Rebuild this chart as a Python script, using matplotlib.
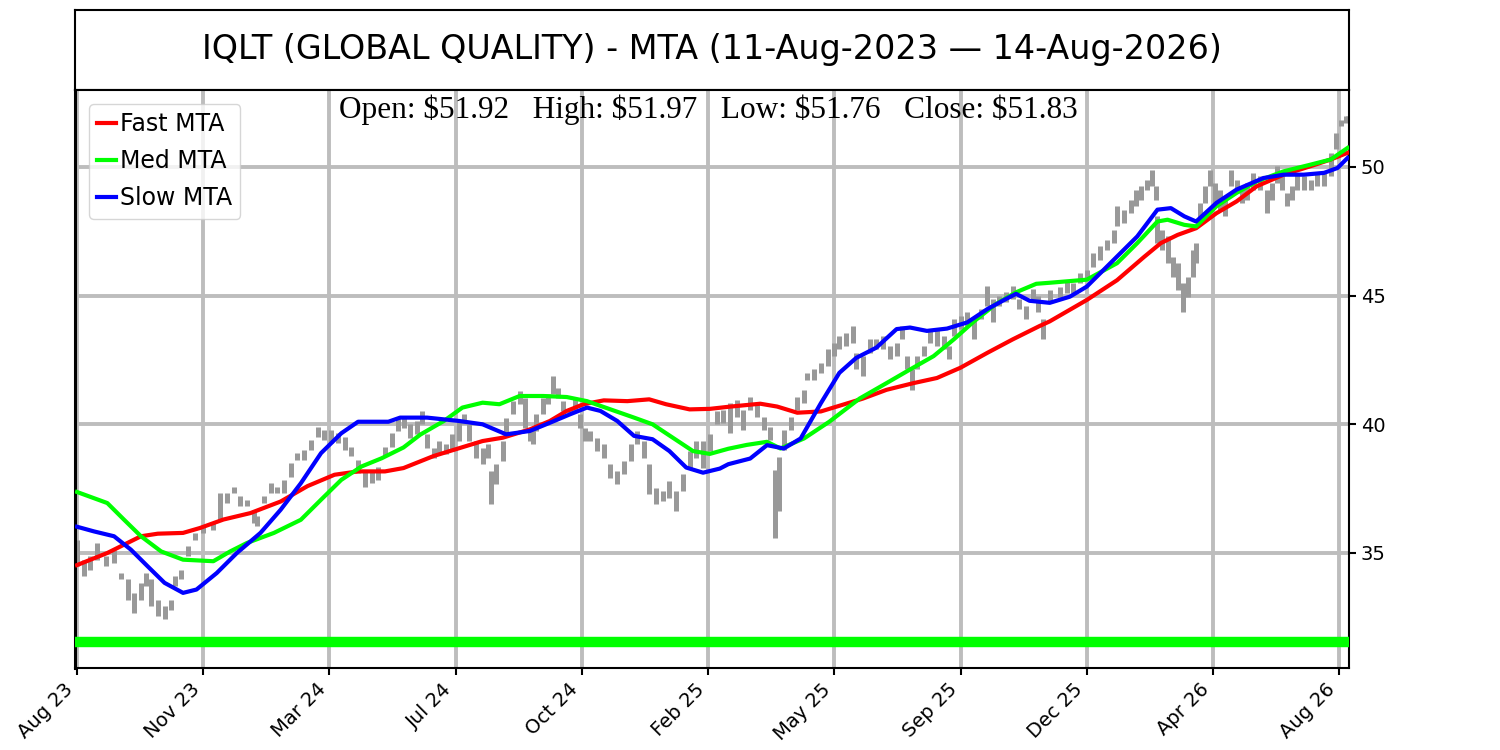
import numpy as np
import matplotlib
matplotlib.use('Agg')
import matplotlib.pyplot as plt

# DATA ----------------------------------------------------------------------------------------------------------------#
title_text = "IQLT (GLOBAL QUALITY) - MTA (11-Aug-2023 \u2014 14-Aug-2026)"
ohlc_text = "Open: $51.92   High: $51.97   Low: $51.76   Close: $51.83"

tick_pos = [0, 75, 150, 225, 300, 375, 450, 525, 600, 675, 750]
tick_labels = ['Aug 23', 'Nov 23', 'Mar 24', 'Jul 24', 'Oct 24', 'Feb 25',
               'May 25', 'Sep 25', 'Dec 25', 'Apr 26', 'Aug 26']

# price bars (bar index, low, high)
bar_idx = [0, 4, 8, 12, 17, 22, 26, 30, 34, 38, 41, 44, 48, 52, 56, 58, 62, 66, 70, 75,
           81, 85, 89, 93, 97, 101, 105, 107, 111, 115, 119, 123, 127, 131, 135, 139, 143, 147, 151, 155,
           159, 163, 167, 171, 175, 179, 183, 187, 191, 194, 198, 202, 205, 208, 212, 215, 219, 223, 227, 230,
           233, 237, 241, 244, 246, 249, 253, 255, 259, 263, 266, 269, 271, 273, 277, 280, 283, 286, 289, 293,
           296, 299, 302, 305, 309, 313, 317, 321, 325, 329, 333, 337, 340, 344, 348, 352, 356, 360, 364, 368,
           372, 376, 380, 384, 388, 392, 396, 400, 404, 408, 412, 415, 417, 420, 424, 428, 432, 434, 438, 442,
           446, 450, 453, 457, 461, 463, 467, 471, 475, 479, 483, 487, 490, 493, 496, 499, 503, 507, 511, 515,
           518, 521, 525, 529, 533, 537, 541, 544, 548, 552, 556, 560, 564, 568, 571, 574, 578, 584, 588, 592,
           596, 600, 604, 608, 612, 616, 618, 622, 626, 629, 632, 636, 639, 641, 642, 645, 648, 651, 654, 657,
           660, 663, 665, 667, 670, 673, 676, 679, 682, 686, 689, 692, 695, 699, 703, 707, 710, 713, 716, 719,
           722, 725, 729, 733, 737, 741, 745, 748, 751, 754, 755]
bar_low = [34.48, 34.10, 34.35, 34.74, 34.48, 34.61, 33.97, 33.19, 32.67, 33.19, 33.71, 32.93, 32.55, 32.42, 32.80,
           33.71, 33.97, 34.87, 35.52, 35.78,
           35.90, 36.29, 36.94, 37.33, 36.81, 36.81, 36.16, 36.03, 36.94, 37.33, 37.33, 37.33, 37.97, 38.62, 38.62,
           39.01, 39.52, 39.39, 39.26, 39.26,
           39.01, 38.75, 38.10, 37.58, 37.71, 37.84, 38.75, 39.13, 39.74, 39.87, 39.48, 39.61, 40.00, 39.09, 38.70,
           38.83, 38.83, 38.96, 39.35, 40.00,
           39.35, 38.70, 38.45, 38.70, 36.89, 37.67, 38.58, 39.61, 40.39, 40.78, 39.87, 39.35, 39.22, 39.74, 40.39,
           40.78, 41.17, 41.04, 40.52, 40.39,
           40.52, 39.87, 39.35, 39.35, 38.96, 38.70, 37.93, 37.67, 38.06, 38.58, 39.22, 38.70, 37.28, 36.89, 37.02,
           37.15, 36.63, 37.41, 38.32, 38.70,
           38.32, 38.96, 40.00, 40.04, 39.65, 40.30, 39.78, 40.56, 40.30, 39.78, 39.39, 35.60, 36.64, 38.99, 39.78,
           40.56, 40.82, 41.74, 41.74, 42.00,
           42.26, 42.65, 42.91, 43.04, 43.17, 42.13, 41.87, 42.78, 42.91, 42.91, 42.52, 42.65, 43.30, 42.13, 41.34,
           42.13, 42.65, 43.17, 43.04, 42.91,
           42.52, 43.43, 43.69, 43.83, 43.30, 44.09, 44.61, 43.96, 44.61, 44.74, 44.87, 44.48, 44.09, 44.74, 44.35,
           43.30, 44.70, 44.96, 45.09, 45.09,
           45.48, 45.61, 46.13, 46.39, 46.78, 47.04, 47.69, 47.82, 48.21, 48.47, 48.73, 49.12, 49.25, 48.73, 47.04,
           46.78, 46.26, 45.74, 45.22, 44.38,
           44.96, 45.74, 46.26, 47.82, 48.60, 49.25, 48.60, 48.34, 48.08, 49.25, 48.99, 48.60, 48.73, 49.12, 49.12,
           48.21, 48.73, 49.38, 49.12, 48.47,
           48.73, 49.12, 49.12, 49.12, 49.25, 49.25, 49.64, 50.68, 51.58, 51.71, 51.76]
bar_high = [35.52, 34.74, 34.87, 35.39, 34.87, 35.13, 34.22, 33.97, 33.45, 33.84, 34.22, 33.97, 33.19, 32.93, 33.19,
            34.10, 34.35, 35.26, 35.78, 36.03,
            36.16, 37.33, 37.33, 37.58, 37.20, 37.07, 36.68, 36.42, 37.20, 37.71, 37.58, 37.84, 38.49, 38.88, 39.01,
            39.39, 39.91, 39.78, 39.78, 39.65,
            39.52, 39.13, 38.62, 38.23, 38.23, 38.36, 39.13, 39.65, 40.26, 40.26, 40.00, 40.13, 40.52, 39.61, 39.09,
            39.35, 39.22, 39.61, 40.13, 40.39,
            40.00, 39.35, 39.09, 39.22, 38.19, 38.45, 39.35, 40.26, 40.91, 41.30, 41.04, 39.87, 39.87, 40.39, 41.04,
            41.17, 41.88, 41.42, 40.91, 40.65,
            41.04, 40.39, 39.87, 39.74, 39.48, 39.22, 38.45, 38.19, 38.58, 39.22, 39.74, 39.35, 38.45, 37.54, 37.41,
            37.80, 37.41, 38.06, 38.96, 39.35,
            39.35, 39.61, 40.52, 40.56, 40.82, 40.95, 40.56, 41.08, 40.82, 40.30, 39.91, 38.21, 38.73, 39.78, 40.30,
            41.08, 41.34, 42.00, 42.13, 42.39,
            42.91, 43.17, 43.43, 43.56, 43.83, 42.78, 42.65, 43.30, 43.30, 43.43, 43.04, 43.17, 43.83, 42.65, 42.13,
            42.65, 43.04, 43.69, 43.69, 43.43,
            43.04, 44.09, 44.22, 44.35, 44.09, 44.48, 45.39, 44.87, 45.00, 45.13, 45.39, 44.87, 44.61, 45.26, 45.00,
            44.09, 45.22, 45.35, 45.61, 45.48,
            45.87, 46.00, 46.65, 46.91, 47.17, 47.56, 48.47, 48.34, 48.73, 49.12, 49.25, 49.51, 49.90, 49.25, 48.08,
            47.56, 47.30, 46.52, 46.26, 45.48,
            45.74, 46.78, 47.04, 48.60, 49.25, 49.90, 49.38, 49.12, 48.73, 49.90, 49.51, 49.25, 49.38, 49.77, 49.64,
            49.12, 49.38, 50.03, 49.64, 48.99,
            49.25, 49.77, 49.64, 49.51, 49.77, 49.77, 50.55, 51.32, 51.84, 51.97, 51.97]

# MTA lines (bar index, value)
fast_idx = [0, 18, 38, 48, 63, 73, 87, 103, 121, 137, 153, 167, 183, 194, 212, 225, 241, 253, 269, 281,
            291, 301, 313, 327, 340, 350, 364, 376, 387, 406, 416, 428, 442, 455, 467, 481, 497, 511, 525, 541,
            556, 572, 578, 600, 618, 634, 644, 654, 665, 677, 689, 701, 717, 733, 745, 755]
fast_val = [34.53, 35.00, 35.65, 35.75, 35.78, 35.97, 36.30, 36.55, 37.00, 37.60, 38.04, 38.17, 38.17, 38.30, 38.77,
            39.03, 39.35, 39.48, 39.80, 40.13,
            40.52, 40.78, 40.93, 40.90, 40.97, 40.78, 40.58, 40.60, 40.68, 40.80, 40.69, 40.45, 40.50, 40.76, 41.00,
            41.34, 41.60, 41.80, 42.20, 42.78,
            43.30, 43.82, 44.00, 44.83, 45.60, 46.50, 47.04, 47.36, 47.62, 48.20, 48.66, 49.25, 49.70, 50.03, 50.29,
            50.55]

med_idx = [0, 18, 28, 38, 50, 63, 81, 91, 101, 117, 133, 145, 157, 169, 181, 194, 204, 218, 229, 241,
           251, 263, 277, 291, 303, 317, 331, 342, 354, 366, 376, 387, 398, 410, 418, 432, 447, 465, 481, 495,
           509, 521, 533, 546, 558, 570, 578, 600, 618, 630, 642, 648, 658, 665, 677, 689, 701, 717, 733, 745,
           755]
med_val = [37.37, 36.94, 36.29, 35.65, 35.06, 34.74, 34.68, 35.06, 35.39, 35.78, 36.29, 37.07, 37.84, 38.36, 38.68,
           39.10, 39.60, 40.13, 40.65, 40.84,
           40.78, 41.10, 41.10, 41.06, 40.90, 40.58, 40.26, 40.00, 39.48, 38.96, 38.85, 39.05, 39.20, 39.32, 39.06,
           39.45, 40.10, 41.00, 41.60, 42.13,
           42.65, 43.30, 44.00, 44.67, 45.13, 45.46, 45.50, 45.62, 46.26, 47.04, 47.88, 47.95, 47.75, 47.69, 48.47,
           48.99, 49.44, 49.83, 50.09, 50.29,
           50.74]

slow_idx = [0, 10, 22, 32, 42, 52, 63, 71, 83, 95, 109, 121, 133, 145, 157, 167, 177, 185, 192, 208,
            227, 241, 255, 269, 281, 293, 303, 311, 321, 331, 342, 352, 362, 372, 382, 387, 400, 410, 420, 430,
            442, 453, 463, 475, 487, 495, 505, 517, 529, 541, 552, 558, 566, 578, 590, 600, 618, 630, 642, 650,
            658, 665, 677, 689, 705, 717, 729, 741, 749, 755]
slow_val = [36.02, 35.84, 35.65, 35.13, 34.48, 33.84, 33.45, 33.58, 34.22, 35.00, 35.78, 36.68, 37.71, 38.88, 39.65,
            40.10, 40.10, 40.10, 40.26, 40.26,
            40.13, 40.00, 39.61, 39.74, 40.06, 40.39, 40.65, 40.52, 40.13, 39.55, 39.42, 38.96, 38.32, 38.12, 38.28,
            38.45, 38.67, 39.19, 39.06, 39.45,
            40.82, 42.00, 42.58, 42.98, 43.70, 43.76, 43.63, 43.72, 43.96, 44.48, 44.87, 45.07, 44.80, 44.72, 44.96,
            45.35, 46.52, 47.30, 48.34, 48.40,
            48.08, 47.88, 48.60, 49.12, 49.57, 49.70, 49.70, 49.77, 49.96, 50.35]

support_level = 31.55

# PLOT ----------------------------------------------------------------------------------------------------------------#
fig = plt.figure(figsize=(15, 7.5), dpi=100)

ax_title = fig.add_axes([0.05, 0.88, 0.8493, 0.1067])
ax_title.set_xticks([])
ax_title.set_yticks([])
for sp in ax_title.spines.values():
    sp.set_linewidth(1.5)
ax_title.text(0.5, 0.5, title_text, ha='center', va='center', fontsize=24, transform=ax_title.transAxes)

ax = fig.add_axes([0.05, 0.1093, 0.8493, 0.7707])
ax.vlines(bar_idx, bar_low, bar_high, color='#999999', lw=3.6, zorder=2)
ax.plot(fast_idx, fast_val, color='red', lw=3, label='Fast MTA', zorder=3)
ax.plot(med_idx, med_val, color='lime', lw=3, label='Med MTA', zorder=3)
ax.plot(slow_idx, slow_val, color='blue', lw=3, label='Slow MTA', zorder=4)
ax.axhline(support_level, color='lime', lw=7.5, zorder=3)

ax.set_xlim(-1.2, 755.8)
ax.set_ylim(30.53, 52.99)
ax.set_xticks(tick_pos)
ax.set_xticklabels(tick_labels, rotation=45, ha='right', fontsize=14)
ax.set_yticks([35, 40, 45, 50])
ax.yaxis.tick_right()
ax.tick_params(axis='y', labelsize=14, length=5, width=1.5)
ax.tick_params(axis='x', length=5, width=1.5)
ax.grid(True, color='#bdbdbd', lw=2.8, zorder=0)
ax.set_axisbelow(True)
for sp in ax.spines.values():
    sp.set_linewidth(1.5)
ax.spines['left'].set_linewidth(2.2)

ax.text(0.497, 0.992, ohlc_text, ha='center', va='top', fontsize=22.5, family='Liberation Serif',
        transform=ax.transAxes, parse_math=False)

ax.legend(loc='upper left', fontsize=17, handlelength=0.8, handletextpad=0.15, borderpad=0.35,
          labelspacing=0.55, borderaxespad=0.6)

plt.savefig('out.png')
plt.close()
